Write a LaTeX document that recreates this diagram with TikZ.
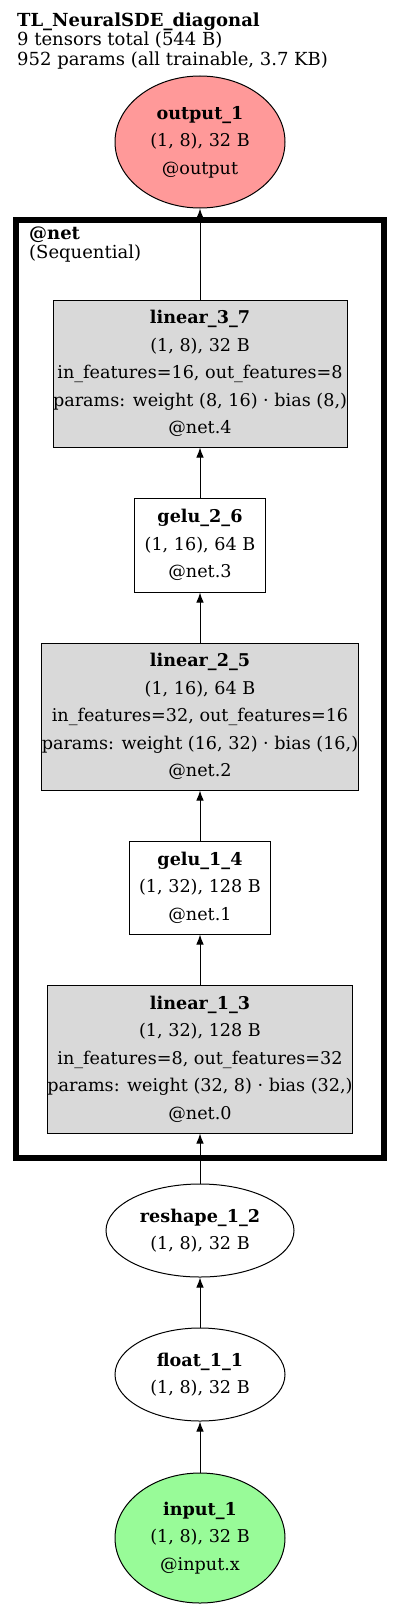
\documentclass[tikz,border=0pt]{standalone}
\usepackage{fontspec}
\setmainfont{DejaVu Serif}
\usepackage{tikz}
\usetikzlibrary{arrows.meta,positioning,shapes.geometric}

\definecolor{outpink}{HTML}{FF9999}
\definecolor{inpgreen}{HTML}{98FB98}
\definecolor{laygray}{HTML}{D9D9D9}

\begin{document}
\begin{tikzpicture}[
  x=1pt,y=-1pt,
  txt/.style={font=\fontsize{17.6}{27.5}\selectfont, align=center},
  head/.style={font=\fontsize{18}{19.5}\selectfont, align=left, inner sep=0pt, anchor=north west},
  tensor/.style={ellipse,draw,line width=1pt,inner sep=0pt,txt},
  op/.style={rectangle,draw,line width=1pt,inner xsep=0pt,txt},
  layer/.style={op,fill=laygray},
  cluster/.style={draw,line width=6pt,inner sep=0pt},
  arr/.style={-{Latex[length=10pt,width=7.5pt]},line width=1pt}
]
\useasboundingbox (0,0) rectangle (400,1611);

% -------------------------
% Header
% -------------------------
\node[head] (title) at (17,12.5)
{\textbf{TL\_NeuralSDE\_diagonal}\\9 tensors total (544 B)\\952 params (all trainable, 3.7 KB)};

% -------------------------
% Cluster: @net (Sequential)
% -------------------------
\node[cluster,minimum width=368pt,minimum height=938pt] (net) at (200,689) {};
\node[head] (net_lab) at (29,226.5) {\textbf{@net}\\(Sequential)};

\node[layer,minimum width=287pt,minimum height=147pt] (linear_3_7) at (200,373.5)
{\textbf{linear\_3\_7}\\(1, 8), 32 B\\in\_features=16, out\_features=8\\params: weight (8, 16) · bias (8,)\\@net.4};
\node[op,minimum width=131pt,minimum height=94pt] (gelu_2_6) at (200,545)
{\textbf{gelu\_2\_6}\\(1, 16), 64 B\\@net.3};
\node[layer,minimum width=307pt,minimum height=147pt] (linear_2_5) at (200,716.5)
{\textbf{linear\_2\_5}\\(1, 16), 64 B\\in\_features=32, out\_features=16\\params: weight (16, 32) · bias (16,)\\@net.2};
\node[op,minimum width=141pt,minimum height=93pt] (gelu_1_4) at (200,887.5)
{\textbf{gelu\_1\_4}\\(1, 32), 128 B\\@net.1};
\node[layer,minimum width=298pt,minimum height=148pt] (linear_1_3) at (200,1059)
{\textbf{linear\_1\_3}\\(1, 32), 128 B\\in\_features=8, out\_features=32\\params: weight (32, 8) · bias (32,)\\@net.0};

% -------------------------
% Tensors outside the cluster
% -------------------------
\node[tensor,fill=outpink,minimum width=170pt,minimum height=132pt] (output_1) at (200,142)
{\textbf{output\_1}\\(1, 8), 32 B\\@output};
\node[tensor,minimum width=188pt,minimum height=93pt] (reshape_1_2) at (200,1230.5)
{\textbf{reshape\_1\_2}\\(1, 8), 32 B};
\node[tensor,minimum width=170pt,minimum height=93pt] (float_1_1) at (200,1374.5)
{\textbf{float\_1\_1}\\(1, 8), 32 B};
\node[tensor,fill=inpgreen,minimum width=170pt,minimum height=130pt] (input_1) at (200,1538)
{\textbf{input\_1}\\(1, 8), 32 B\\@input.x};

% -------------------------
% Flow (bottom to top)
% -------------------------
\draw[arr] (input_1.north) -- (float_1_1.south);
\draw[arr] (float_1_1.north) -- (reshape_1_2.south);
\draw[arr] (reshape_1_2.north) -- (linear_1_3.south);
\draw[arr] (linear_1_3.north) -- (gelu_1_4.south);
\draw[arr] (gelu_1_4.north) -- (linear_2_5.south);
\draw[arr] (linear_2_5.north) -- (gelu_2_6.south);
\draw[arr] (gelu_2_6.north) -- (linear_3_7.south);
\draw[arr] (linear_3_7.north) -- (output_1.south);

\end{tikzpicture}
\end{document}
